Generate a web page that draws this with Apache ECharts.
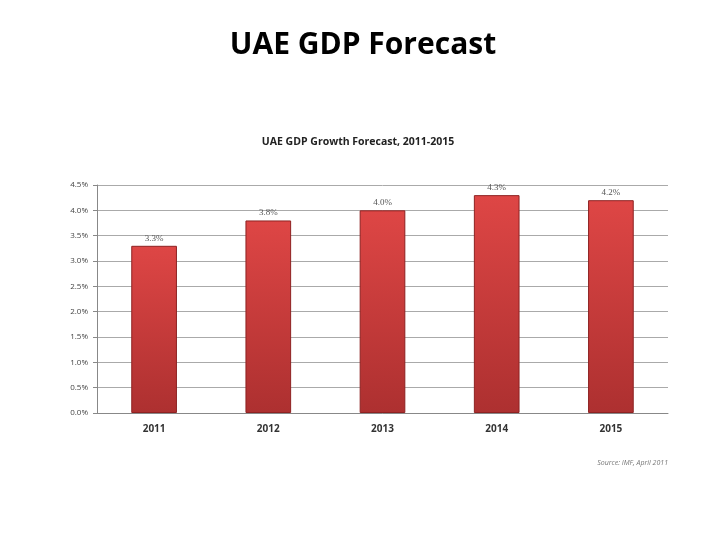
<!DOCTYPE html>
<html><head><meta charset="utf-8">
<script src="https://cdn.jsdelivr.net/npm/echarts@6/dist/echarts.min.js"></script>
<style>html,body{margin:0;padding:0;background:#fff}#c{width:720px;height:540px}</style>
</head><body><div id="c"></div>
<script>
const categories = ['2011','2012','2013','2014','2015'];
const growth = [3.3, 3.8, 4.0, 4.3, 4.2];
const yTicks = ['0.0%','0.5%','1.0%','1.5%','2.0%','2.5%','3.0%','3.5%','4.0%','4.5%'];

const chart = echarts.init(document.getElementById('c'));
chart.setOption({
  animation: false,
  title: [
    {text: 'UAE GDP Forecast', left: 358, top: 25, textAlign: 'center',
     textStyle: {fontFamily: 'Open Sans', fontSize: 30, fontWeight: 'bold', color: '#000'}},
    {text: 'UAE GDP Growth Forecast, 2011-2015', left: 353, top: 132, textAlign: 'center',
     textStyle: {fontFamily: 'Open Sans', fontSize: 10.5, fontWeight: 'bold', color: '#222'}},
    {text: 'Source: IMF, April 2011', right: 47, top: 454,
     textStyle: {fontFamily: 'Open Sans', fontSize: 7, fontStyle: 'italic', fontWeight: 'normal', color: '#777'}}
  ],
  grid: {left: 97, right: 52, top: 185, bottom: 127},
  xAxis: {
    type: 'category', data: categories,
    axisLine: {lineStyle: {color: '#888'}},
    axisTick: {show: false},
    axisLabel: {fontFamily: 'Open Sans', fontSize: 10, fontWeight: 'bold', color: '#333', margin: 11}
  },
  yAxis: {
    type: 'value', min: 0, max: 4.5, interval: 0.5,
    axisLine: {show: true, lineStyle: {color: '#888'}},
    axisTick: {show: true, length: 4, lineStyle: {color: '#888'}},
    splitLine: {lineStyle: {color: '#aaa'}},
    axisLabel: {fontFamily: 'Open Sans', fontSize: 8, color: '#444', margin: 9,
      formatter: v => yTicks[Math.round(v / 0.5)]}
  },
  series: [{
    type: 'bar', data: growth, barWidth: '40%',
    itemStyle: {
      color: new echarts.graphic.LinearGradient(0, 0, 0, 1, [
        {offset: 0, color: '#de4645'},
        {offset: 1, color: '#ad3030'}
      ]),
      borderColor: '#8e2222', borderWidth: 1
    },
    label: {show: true, position: 'top', distance: 3, fontFamily: 'Liberation Serif',
      fontSize: 9, color: '#555', formatter: p => p.value.toFixed(1) + '%'}
  }]
});
</script></body></html>
